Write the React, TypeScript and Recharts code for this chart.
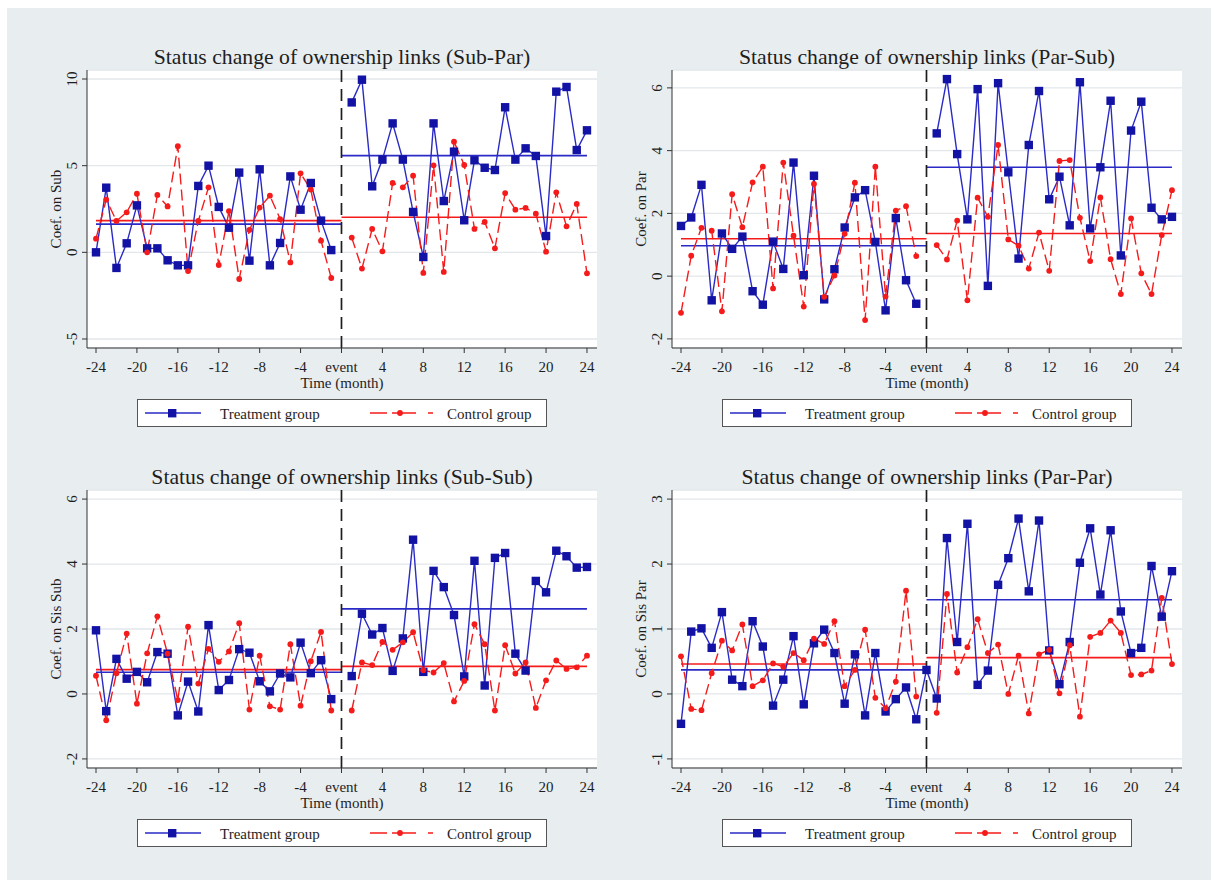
import React from "react";
import {
  LineChart,
  Line,
  XAxis,
  YAxis,
  CartesianGrid,
  ReferenceLine,
} from "recharts";

// months relative to the event (0 = event month)
const months = [
  -24, -23, -22, -21, -20, -19, -18, -17, -16, -15, -14, -13, -12, -11, -10, -9,
  -8, -7, -6, -5, -4, -3, -2, -1, 0, 1, 2, 3, 4, 5, 6, 7, 8, 9, 10, 11, 12, 13,
  14, 15, 16, 17, 18, 19, 20, 21, 22, 23, 24,
];
const xTicks = [-24, -20, -16, -12, -8, -4, 0, 4, 8, 12, 16, 20, 24];

// Sub-Par
const subParTreat = [
  0.0, 3.73, -0.9, 0.52, 2.71, 0.23, 0.23, -0.46, -0.75, -0.75, 3.83, 5.0, 2.62, 1.42, 4.6, -0.48,
  4.79, -0.75, 0.54, 4.38, 2.46, 4.0, 1.83, 0.13, null,
  8.65, 9.96, 3.81, 5.35, 7.44, 5.35, 2.33, -0.27, 7.44, 2.96, 5.81, 1.85, 5.31, 4.88, 4.75, 8.37,
  5.35, 6.0, 5.56, 0.94, 9.27, 9.54, 5.9, 7.04,
];
const subParCtrl = [
  0.79, 3.04, 1.81, 2.31, 3.38, 0.0, 3.31, 2.65, 6.12, -1.08, 1.81, 3.75, -0.73, 2.38, -1.54, 1.29,
  2.58, 3.27, 1.92, -0.58, 4.56, 3.62, 0.67, -1.48, null,
  0.85, -0.94, 1.35, 0.06, 4.0, 3.75, 4.42, -1.19, 5.02, -1.13, 6.38, 5.04, 1.35, 1.75, 0.23, 3.42,
  2.46, 2.56, 2.23, 0.04, 3.46, 1.5, 2.79, -1.21,
];
const subParTreatMean = [1.63, 5.58]; // pre, post
const subParCtrlMean = [1.83, 2.02];

// Par-Sub
const parSubTreat = [
  1.6, 1.87, 2.91, -0.77, 1.36, 0.87, 1.26, -0.48, -0.91, 1.1, 0.23, 3.62, 0.03, 3.2, -0.74, 0.22,
  1.55, 2.51, 2.74, 1.09, -1.09, 1.85, -0.13, -0.88, null,
  4.55, 6.28, 3.89, 1.81, 5.96, -0.31, 6.15, 3.31, 0.56, 4.18, 5.9, 2.45, 3.17, 1.62, 6.18, 1.52,
  3.47, 5.59, 0.66, 4.64, 5.56, 2.18, 1.81, 1.89,
];
const parSubCtrl = [
  -1.17, 0.65, 1.54, 1.45, -1.12, 2.61, 1.56, 2.99, 3.49, -0.39, 3.62, 1.29, -0.97, 2.94, -0.66, 0.02,
  1.35, 2.98, -1.4, 3.49, -0.65, 2.09, 2.23, 0.64, null,
  0.99, 0.53, 1.77, -0.77, 2.5, 1.89, 4.18, 1.17, 0.97, 0.24, 1.39, 0.17, 3.67, 3.7, 1.86, 0.48,
  2.51, 0.54, -0.57, 1.84, 0.09, -0.57, 1.31, 2.74,
];
const parSubTreatMean = [0.97, 3.47];
const parSubCtrlMean = [1.19, 1.36];

// Sub-Sub
const subSubTreat = [
  1.96, -0.53, 1.08, 0.47, 0.68, 0.36, 1.29, 1.24, -0.66, 0.38, -0.54, 2.12, 0.12, 0.43, 1.38, 1.27,
  0.39, 0.08, 0.63, 0.51, 1.58, 0.64, 1.04, -0.16, null,
  0.55, 2.47, 1.83, 2.03, 0.71, 1.71, 4.75, 0.68, 3.79, 3.29, 2.43, 0.54, 4.1, 0.26, 4.19, 4.34,
  1.24, 0.72, 3.48, 3.13, 4.41, 4.24, 3.89, 3.91,
];
const subSubCtrl = [
  0.56, -0.81, 0.64, 1.86, -0.3, 1.25, 2.39, 1.24, -0.19, 2.07, 0.32, 1.39, 0.99, 1.31, 2.18, -0.48,
  1.18, -0.38, -0.48, 1.53, -0.36, 1.01, 1.91, -0.51, null,
  -0.51, 0.97, 0.89, 1.6, 1.36, 1.59, 1.9, 0.73, 0.66, 0.95, -0.23, 0.4, 2.15, 1.53, -0.51, 1.5,
  0.63, 0.97, -0.43, 0.42, 1.03, 0.77, 0.82, 1.18,
];
const subSubTreatMean = [0.67, 2.62];
const subSubCtrlMean = [0.75, 0.85];

// Par-Par
const parParTreat = [
  -0.46, 0.96, 1.01, 0.71, 1.26, 0.22, 0.12, 1.12, 0.73, -0.18, 0.22, 0.89, -0.16, 0.78, 0.99, 0.63,
  -0.15, 0.61, -0.33, 0.63, -0.27, -0.08, 0.1, -0.39, 0.37,
  -0.07, 2.4, 0.8, 2.62, 0.14, 0.36, 1.68, 2.09, 2.7, 1.58, 2.67, 0.67, 0.15, 0.8, 2.02, 2.55,
  1.53, 2.52, 1.27, 0.63, 0.71, 1.97, 1.19, 1.89,
];
const parParCtrl = [
  0.58, -0.23, -0.25, 0.32, 0.82, 0.67, 1.07, 0.12, 0.21, 0.47, 0.42, 0.63, 0.52, 0.85, 0.77, 1.12,
  0.12, 0.37, 0.99, -0.06, -0.22, 0.19, 1.59, -0.04, null,
  -0.29, 1.54, 0.33, 0.72, 1.15, 0.63, 0.76, 0.0, 0.59, -0.3, 0.61, 0.68, 0.01, 0.75, -0.35, 0.88,
  0.94, 1.13, 0.94, 0.29, 0.3, 0.36, 1.48, 0.46,
];
const parParTreatMean = [0.37, 1.45];
const parParCtrlMean = [0.46, 0.56];

const SERIF = "'Liberation Serif', 'Times New Roman', Times, serif";
const BLUE = "#1212a4";
const BLUE_LINE = "#2a2ac6";
const RED = "#f51b1b";
const INK = "#1e1e1e";

type PanelDef = {
  title: string;
  yLabel: string;
  treat: (number | null)[];
  ctrl: (number | null)[];
  treatMean: number[];
  ctrlMean: number[];
  yTicks: number[];
  yDomain: [number, number];
  dx: number;
  dy: number;
};

const panels: PanelDef[] = [
  {
    title: "Status change of ownership links (Sub-Par)",
    yLabel: "Coef. on Sub",
    treat: subParTreat,
    ctrl: subParCtrl,
    treatMean: subParTreatMean,
    ctrlMean: subParCtrlMean,
    yTicks: [-5, 0, 5, 10],
    yDomain: [-5.52, 10.52],
    dx: 0,
    dy: 0,
  },
  {
    title: "Status change of ownership links (Par-Sub)",
    yLabel: "Coef. on Par",
    treat: parSubTreat,
    ctrl: parSubCtrl,
    treatMean: parSubTreatMean,
    ctrlMean: parSubCtrlMean,
    yTicks: [-2, 0, 2, 4, 6],
    yDomain: [-2.29, 6.57],
    dx: 585,
    dy: 0,
  },
  {
    title: "Status change of ownership links (Sub-Sub)",
    yLabel: "Coef. on Sis Sub",
    treat: subSubTreat,
    ctrl: subSubCtrl,
    treatMean: subSubTreatMean,
    ctrlMean: subSubCtrlMean,
    yTicks: [-2, 0, 2, 4, 6],
    yDomain: [-2.28, 6.28],
    dx: 0,
    dy: 420,
  },
  {
    title: "Status change of ownership links (Par-Par)",
    yLabel: "Coef. on Sis Par",
    treat: parParTreat,
    ctrl: parParCtrl,
    treatMean: parParTreatMean,
    ctrlMean: parParCtrlMean,
    yTicks: [-1, 0, 1, 2, 3],
    yDomain: [-1.14, 3.14],
    dx: 585,
    dy: 420,
  },
];

// chart box geometry (px)
const CHART_W = 580;
const CHART_H = 335;
const Y_AXIS_W = 57;
const X_AXIS_H = 47;
const MARGIN = { top: 10, right: 13, bottom: 0, left: 0 };
const PLOT_W = CHART_W - Y_AXIS_W - MARGIN.right;
const PLOT_H = CHART_H - X_AXIS_H - MARGIN.top;

const SquareDot = (props: any) => {
  const { cx, cy, index } = props;
  if (cx == null || cy == null) return <g key={`sq-${index}`} />;
  return <rect key={`sq-${index}`} x={cx - 4.2} y={cy - 4.2} width={8.4} height={8.4} fill={BLUE} />;
};

const RoundDot = (props: any) => {
  const { cx, cy, index } = props;
  if (cx == null || cy == null) return <g key={`rd-${index}`} />;
  return <circle key={`rd-${index}`} cx={cx} cy={cy} r={2.9} fill={RED} />;
};

const YTick = (props: any) => {
  const { x, y, payload } = props;
  return (
    <text
      x={x}
      y={y}
      transform={`rotate(-90 ${x} ${y})`}
      textAnchor="middle"
      fontSize={15}
      fontFamily={SERIF}
      fill={INK}
    >
      {payload.value}
    </text>
  );
};

const LegendBox = ({ dx, dy }: { dx: number; dy: number }) => (
  <svg
    width={410}
    height={28}
    style={{ position: "absolute", left: 137 + dx, top: 399 + dy }}
  >
    <rect x={0.5} y={0.5} width={409} height={27} fill="#fff" stroke="#555" strokeWidth={1} />
    <line x1={8} x2={64} y1={14} y2={14} stroke={BLUE_LINE} strokeWidth={1.6} />
    <rect x={31} y={10} width={8.4} height={8.4} fill={BLUE} />
    <text x={83} y={19.5} fontSize={15} fontFamily={SERIF} fill={INK}>
      Treatment group
    </text>
    <line x1={233} x2={296} y1={14} y2={14} stroke={RED} strokeWidth={1.6} strokeDasharray="17 5 24 12 5" />
    <circle cx={263} cy={14} r={2.9} fill={RED} />
    <text x={310} y={19.5} fontSize={15} fontFamily={SERIF} fill={INK}>
      Control group
    </text>
  </svg>
);

const Panel = ({ p }: { p: PanelDef }) => {
  const rows = months.map((m, i) => ({ month: m, treat: p.treat[i], ctrl: p.ctrl[i] }));
  const yLabelX = Y_AXIS_W - 26;
  const yLabelY = MARGIN.top + PLOT_H / 2;
  return (
    <>
      <div
        style={{
          position: "absolute",
          left: 87 + p.dx,
          top: 45 + p.dy,
          width: 510,
          textAlign: "center",
          fontFamily: SERIF,
          fontSize: 21.7,
          lineHeight: "24px",
          color: INK,
          whiteSpace: "nowrap",
        }}
      >
        {p.title}
      </div>
      <div style={{ position: "absolute", left: 30 + p.dx, top: 60 + p.dy }}>
        <LineChart width={CHART_W} height={CHART_H} data={rows} margin={MARGIN}>
          <CartesianGrid vertical={false} stroke="#e3e7ea" strokeWidth={1.3} fill="#ffffff" />
          <XAxis
            dataKey="month"
            type="number"
            domain={[-24.88, 24.98]}
            allowDataOverflow
            ticks={xTicks}
            interval={0}
            height={X_AXIS_H}
            tickSize={5}
            tickMargin={8}
            stroke="#333"
            tickFormatter={(v: number) => (v === 0 ? "event" : String(v))}
            tick={{ fontSize: 15, fill: INK, fontFamily: SERIF }}
            label={{
              content: () => (
                <text
                  x={Y_AXIS_W + PLOT_W / 2}
                  y={MARGIN.top + PLOT_H + 40}
                  textAnchor="middle"
                  fontSize={15}
                  fontFamily={SERIF}
                  fill={INK}
                >
                  Time (month)
                </text>
              ),
            }}
          />
          <YAxis
            type="number"
            domain={p.yDomain}
            allowDataOverflow
            ticks={p.yTicks}
            interval={0}
            width={Y_AXIS_W}
            tickSize={5}
            tickMargin={5}
            stroke="#333"
            tick={<YTick />}
            label={{
              content: () => (
                <text
                  x={yLabelX}
                  y={yLabelY}
                  transform={`rotate(-90 ${yLabelX} ${yLabelY})`}
                  textAnchor="middle"
                  fontSize={15}
                  fontFamily={SERIF}
                  fill={INK}
                >
                  {p.yLabel}
                </text>
              ),
            }}
          />
          <ReferenceLine
            segment={[{ x: -24, y: p.treatMean[0] }, { x: 0, y: p.treatMean[0] }]}
            stroke={BLUE_LINE}
            strokeWidth={1.6}
          />
          <ReferenceLine
            segment={[{ x: 0, y: p.treatMean[1] }, { x: 24, y: p.treatMean[1] }]}
            stroke={BLUE_LINE}
            strokeWidth={1.6}
          />
          <ReferenceLine
            segment={[{ x: -24, y: p.ctrlMean[0] }, { x: 0, y: p.ctrlMean[0] }]}
            stroke={RED}
            strokeWidth={1.6}
          />
          <ReferenceLine
            segment={[{ x: 0, y: p.ctrlMean[1] }, { x: 24, y: p.ctrlMean[1] }]}
            stroke={RED}
            strokeWidth={1.6}
          />
          <ReferenceLine x={0} stroke={INK} strokeWidth={1.7} strokeDasharray="12 7" />
          <Line
            dataKey="treat"
            type="linear"
            stroke={BLUE_LINE}
            strokeWidth={1.4}
            dot={SquareDot}
            activeDot={false}
            isAnimationActive={false}
          />
          <Line
            dataKey="ctrl"
            type="linear"
            stroke={RED}
            strokeWidth={1.4}
            strokeDasharray="11 5"
            dot={RoundDot}
            activeDot={false}
            isAnimationActive={false}
          />
        </LineChart>
      </div>
      <LegendBox dx={p.dx} dy={p.dy} />
    </>
  );
};

export default function App() {
  return (
    <div
      style={{
        position: "absolute",
        left: 0,
        top: 0,
        width: 1217,
        height: 882,
        background: "#ffffff",
        overflow: "hidden",
      }}
    >
      <div
        style={{
          position: "absolute",
          left: 7,
          top: 8,
          width: 1204,
          height: 872,
          background: "#e8edf0",
        }}
      />
      {panels.map((p) => (
        <Panel key={p.title} p={p} />
      ))}
    </div>
  );
}
